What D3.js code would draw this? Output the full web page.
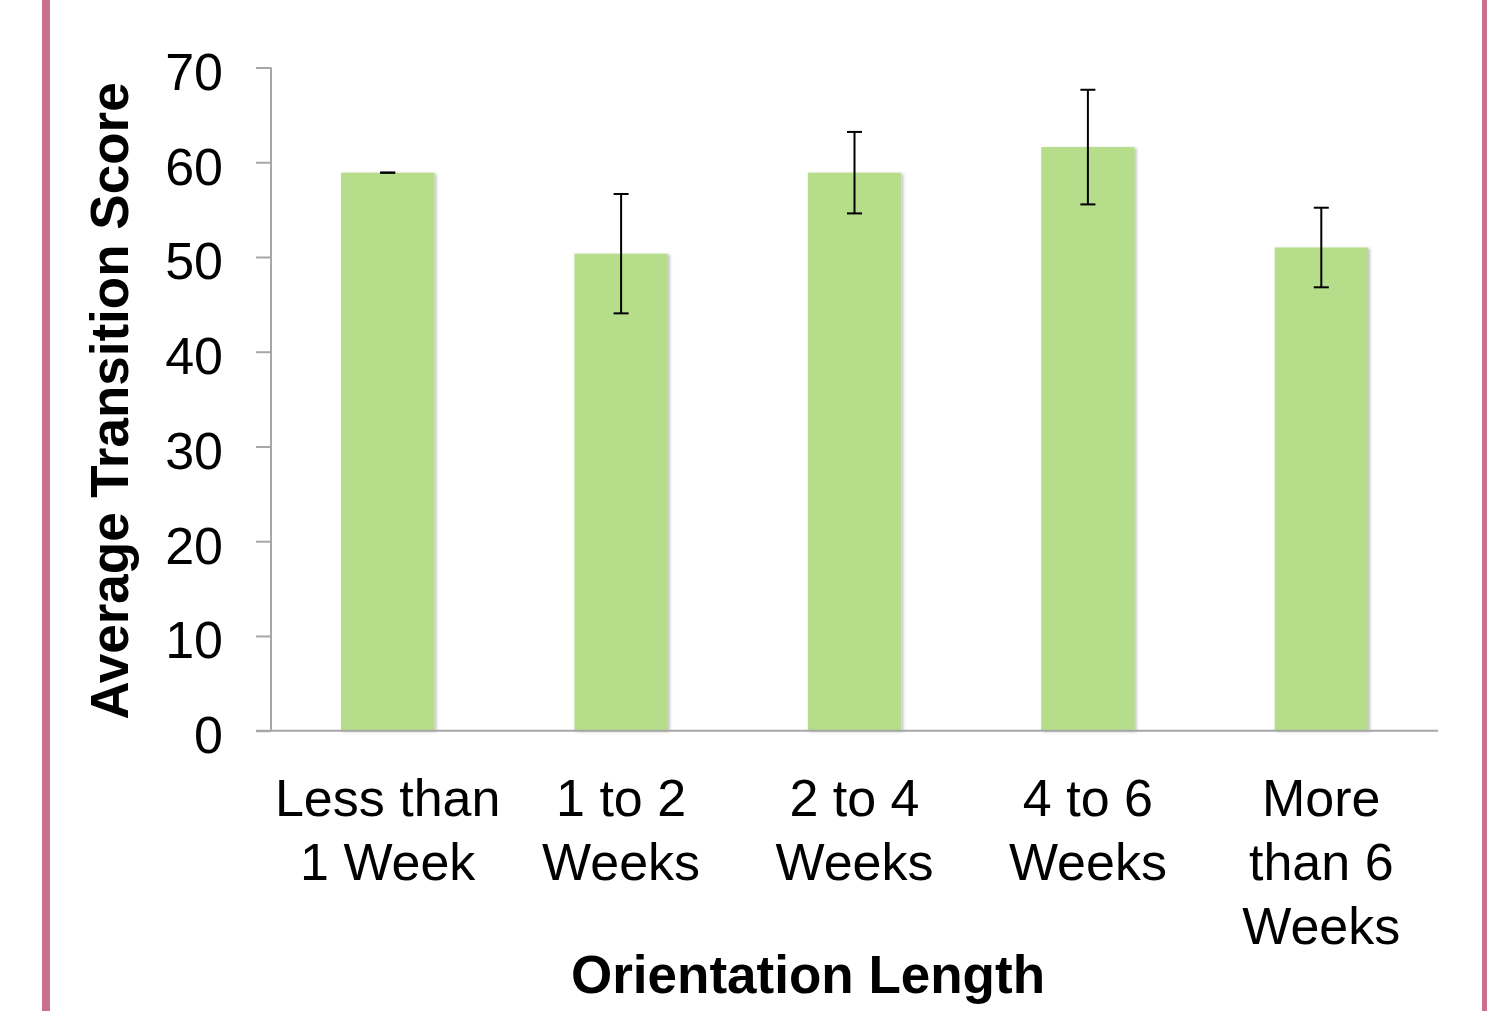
<!DOCTYPE html>
<html>
<head>
<meta charset="utf-8">
<script src="https://cdn.jsdelivr.net/npm/d3@7"></script>
<style>
  html, body { margin: 0; padding: 0; background: #ffffff; }
  svg { display: block; }
  text { font-family: "Liberation Sans", Arial, sans-serif; fill: #000; }
</style>
</head>
<body>
<svg id="chart" width="1487" height="1011"></svg>
<script>
const categories = [
  ["Less than", "1 Week"],
  ["1 to 2", "Weeks"],
  ["2 to 4", "Weeks"],
  ["4 to 6", "Weeks"],
  ["More", "than 6", "Weeks"]
];
const categoryKeys = ["Less than 1 Week", "1 to 2 Weeks", "2 to 4 Weeks", "4 to 6 Weeks", "More than 6 Weeks"];
const values = [58.9, 50.35, 58.9, 61.6, 51.0];
const errors = [0.0, 6.3, 4.3, 6.05, 4.2];
const yTicks = [0, 10, 20, 30, 40, 50, 60, 70];
const yTitle = "Average Transition Score";
const xTitle = "Orientation Length";

const svg = d3.select("#chart");

// pink side borders
svg.append("rect").attr("x", 42).attr("y", 0).attr("width", 8).attr("height", 1011).attr("fill", "#c9708e");
svg.append("rect").attr("x", 1482).attr("y", 0).attr("width", 5).attr("height", 1011).attr("fill", "#c9708e");

const plotLeft = 271, plotRight = 1438, plotTop = 67.5, plotBottom = 730.7;

const x = d3.scaleBand().domain(categoryKeys).range([plotLeft, plotRight]).paddingInner(0.6).paddingOuter(0.3);
const y = d3.scaleLinear().domain([0, 70]).range([plotBottom, plotTop]);

const defs = svg.append("defs");
const f = defs.append("filter").attr("id", "shadow").attr("x", "-10%").attr("y", "-10%").attr("width", "130%").attr("height", "130%");
f.append("feDropShadow").attr("dx", 2).attr("dy", 1).attr("stdDeviation", 1.5).attr("flood-color", "#000").attr("flood-opacity", 0.25);

// y axis
const yAxis = svg.append("g").attr("transform", `translate(${plotLeft},0)`)
  .call(d3.axisLeft(y).tickValues(yTicks).tickSize(15).tickPadding(33).tickFormat(d3.format("d")));
yAxis.select(".domain").attr("stroke", "#a6a6a6").attr("stroke-width", 2).attr("d", `M0,${plotTop}V${plotBottom}`);
yAxis.selectAll(".tick line").attr("stroke", "#a6a6a6").attr("stroke-width", 2);
yAxis.selectAll(".tick text").attr("font-size", 52).attr("dy", "0.42em")
  .style("font-family", '"Liberation Sans", Arial, sans-serif').attr("fill", "#000");

// bars
svg.append("g").selectAll("rect").data(values).join("rect")
  .attr("x", (d, i) => x(categoryKeys[i]))
  .attr("y", d => y(d))
  .attr("width", x.bandwidth())
  .attr("height", d => y(0) - y(d))
  .attr("fill", "#b5dd8a")
  .attr("filter", "url(#shadow)");

// x axis line
svg.append("line").attr("x1", 256).attr("x2", plotRight).attr("y1", plotBottom).attr("y2", plotBottom)
  .attr("stroke", "#a6a6a6").attr("stroke-width", 2);

// error bars
const eg = svg.append("g").attr("stroke", "#000").attr("stroke-width", 2);
values.forEach((v, i) => {
  const cx = x(categoryKeys[i]) + x.bandwidth() / 2;
  const hi = y(v + errors[i]), lo = y(v - errors[i]);
  eg.append("line").attr("x1", cx).attr("x2", cx).attr("y1", hi).attr("y2", lo);
  eg.append("line").attr("x1", cx - 7.5).attr("x2", cx + 7.5).attr("y1", hi).attr("y2", hi);
  eg.append("line").attr("x1", cx - 7.5).attr("x2", cx + 7.5).attr("y1", lo).attr("y2", lo);
});

// x category labels
categories.forEach((lines, i) => {
  const cx = x(categoryKeys[i]) + x.bandwidth() / 2;
  const t = svg.append("text").attr("text-anchor", "middle").attr("font-size", 52);
  lines.forEach((ln, j) => {
    t.append("tspan").attr("x", cx).attr("y", 816 + j * 64).text(ln);
  });
});

// axis titles
svg.append("text").attr("x", 808).attr("y", 993).attr("text-anchor", "middle")
  .attr("font-size", 53).attr("font-weight", "bold").text(xTitle);
svg.append("text").attr("transform", "translate(128,401) rotate(-90)").attr("text-anchor", "middle")
  .attr("font-size", 53).attr("font-weight", "bold").text(yTitle);
</script>
</body>
</html>
